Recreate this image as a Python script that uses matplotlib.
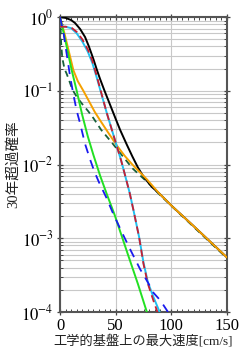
import numpy as np
import matplotlib
matplotlib.use('Agg')
import matplotlib.pyplot as plt
from matplotlib.ticker import LogLocator, MultipleLocator, FixedLocator, NullFormatter

plt.rcParams['mathtext.fontset'] = 'stix'
plt.rcParams['font.family'] = ['Liberation Serif', 'Noto Sans CJK JP']

# curves: x in cm/s, y as log10 of the probability
black_x = [0, 5, 10, 13.5, 18, 22.5, 26, 30, 33, 36, 40, 45, 50, 54, 60, 65, 70, 74, 78, 83, 89, 101, 119, 150]
black_y = [0, -0.01, -0.04, -0.08, -0.16, -0.27, -0.4, -0.57, -0.71, -0.84, -1.0, -1.19, -1.38, -1.53, -1.73, -1.89, -2.04, -2.14, -2.22, -2.31, -2.39, -2.57, -2.82, -3.26]

cyan_x = [0, 5, 10, 15, 20, 25, 29, 33, 37.5, 42, 47, 51, 55, 58, 62.5, 66, 71, 75, 79, 84, 89.5]
cyan_y = [-0.13, -0.13, -0.15, -0.22, -0.33, -0.47, -0.62, -0.82, -1.06, -1.3, -1.55, -1.75, -1.95, -2.12, -2.38, -2.62, -2.98, -3.33, -3.6, -3.8, -4.0]

red_x = [0, 5, 10, 15, 20, 25, 29, 33, 37.5, 42, 47, 51, 55, 58, 62.5, 66, 71, 75, 79, 84, 87.5]
red_y = [-0.13, -0.13, -0.14, -0.2, -0.3, -0.44, -0.59, -0.8, -1.05, -1.3, -1.55, -1.75, -1.95, -2.12, -2.38, -2.62, -2.98, -3.35, -3.62, -3.85, -4.0]

orange_x = [0, 4, 8, 12, 16, 21, 26, 31, 36, 43, 51, 58, 65, 78, 89, 101, 119, 150]
orange_y = [0, -0.22, -0.47, -0.72, -0.87, -1.0, -1.14, -1.28, -1.4, -1.56, -1.74, -1.88, -2.0, -2.2, -2.39, -2.57, -2.82, -3.26]

dgreen_x = [0, 0.5, 1, 2, 4, 6, 8, 11, 15, 20, 25, 30, 37, 47, 65, 80, 89, 119, 150]
dgreen_y = [0, -0.15, -0.35, -0.55, -0.7, -0.77, -0.85, -0.98, -1.08, -1.18, -1.27, -1.37, -1.53, -1.71, -2.05, -2.26, -2.4, -2.83, -3.27]

blue_x = [0, 3, 6, 9, 12, 15, 18, 22.5, 27, 31, 35, 42, 47, 55, 64, 72, 79, 84, 90, 97]
blue_y = [0, -0.2, -0.5, -0.8, -1.05, -1.27, -1.44, -1.72, -1.93, -2.1, -2.24, -2.46, -2.64, -2.9, -3.18, -3.42, -3.6, -3.74, -3.84, -4.0]

lime_x = [0, 5, 10.5, 15, 20, 25, 30, 36, 42, 49, 55, 61, 70, 78]
lime_y = [0, -0.33, -0.72, -1.0, -1.33, -1.62, -1.87, -2.15, -2.4, -2.68, -2.95, -3.22, -3.62, -4.0]

xticks = [0, 50, 100, 150]
yticks = [1e0, 1e-1, 1e-2, 1e-3, 1e-4]
ytick_labels = [r'$10^{0}$', r'$10^{-1}$', r'$10^{-2}$', r'$10^{-3}$', r'$10^{-4}$']

fig = plt.figure(figsize=(2.47, 3.57), dpi=100)
ax = fig.add_axes([0.243, 0.126, 0.676, 0.826])

def curve(x, y, **kw):
    ax.plot(x, 10 ** np.array(y), **kw)

curve(dgreen_x, dgreen_y, color='#17603a', lw=1.3, dashes=(3.5, 2.5), zorder=3)
curve(black_x, black_y, color='black', lw=1.4, zorder=3)
curve(orange_x, orange_y, color='#f5a000', lw=1.4, zorder=4)
curve(cyan_x, cyan_y, color='#20c0f0', lw=1.4, zorder=4)
curve(red_x, red_y, color='#c81e32', lw=1.3, dashes=(4, 2.5), zorder=5)
curve(lime_x, lime_y, color='#22e022', lw=1.4, zorder=4)
curve(blue_x, blue_y, color='#1a1aee', lw=1.3, dashes=(5, 4), zorder=5)

ax.set_yscale('log')
ax.set_xlim(0, 150)
ax.set_ylim(1e-4, 1)

ax.xaxis.set_major_locator(FixedLocator(xticks))
ax.xaxis.set_minor_locator(MultipleLocator(5))
ax.yaxis.set_major_locator(FixedLocator(yticks))
ax.set_yticklabels(ytick_labels)
ax.yaxis.set_minor_locator(LogLocator(base=10, subs=np.arange(2, 10)))
ax.yaxis.set_minor_formatter(NullFormatter())

ax.grid(True, which='both', axis='y', color='#c8c8c8', lw=0.8)
ax.grid(True, which='major', axis='x', color='#c8c8c8', lw=0.8)
ax.set_axisbelow(True)

ax.tick_params(which='major', direction='inout', length=5, width=0.9, color='#444444',
               top=True, right=True, labelsize=12, pad=2)
ax.tick_params(which='minor', direction='in', length=2.5, width=0.7, color='#444444',
               top=True, right=True)
for s in ax.spines.values():
    s.set_color('#555555')
    s.set_linewidth(1.5)

ax.set_xlabel('工学的基盤上の最大速度[cm/s]', fontsize=9.5, labelpad=1, color='#222222')
ax.set_ylabel('30年超過確率', fontsize=10.5, labelpad=1, color='#222222')

fig.savefig('out.png', dpi=100)
